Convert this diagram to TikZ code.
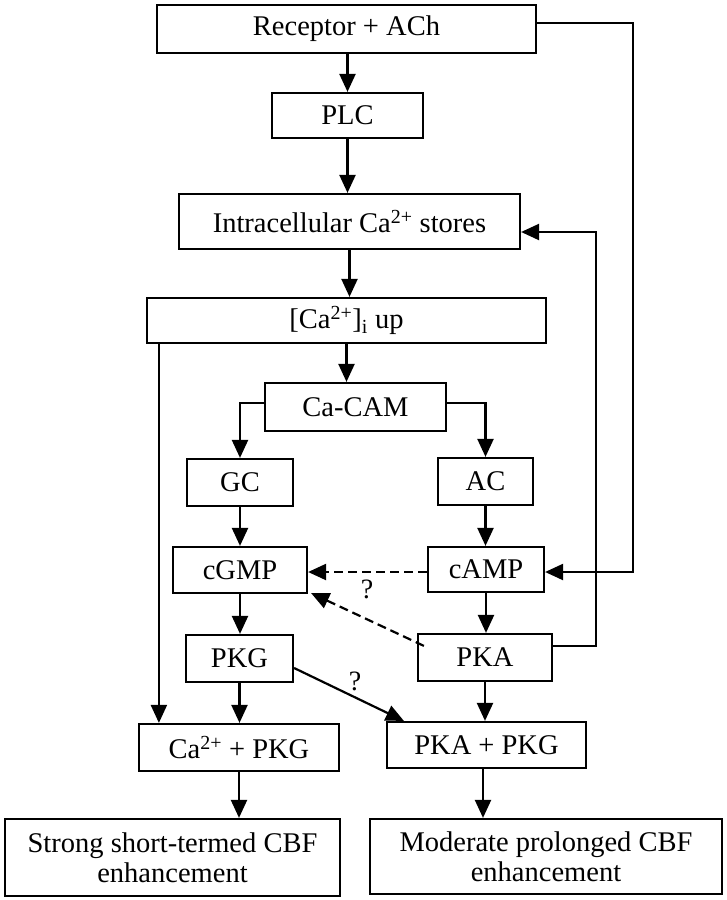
\documentclass[tikz,border=0pt]{standalone}
\usepackage{fontspec}
\setmainfont{Liberation Serif}
\usetikzlibrary{arrows.meta}
\begin{document}
\begin{tikzpicture}[x=1pt,y=-1pt,
  box/.style={draw,line width=2.2pt,inner sep=0pt,align=center,font=\fontsize{28.5}{30}\selectfont},
  arr/.style={line width=2.2pt,-{Triangle[length=18pt,width=16pt]}},
  darr/.style={arr,dash pattern=on 9pt off 5pt},
  qm/.style={font=\fontsize{28}{30}\selectfont,inner sep=0pt}]
\useasboundingbox (0,0) rectangle (727,900);
\node[box,minimum width=379pt,minimum height=48pt] (rec) at (346.5,29) {Receptor + ACh};
\node[box,minimum width=151pt,minimum height=45pt] (plc) at (347.5,115.5) {PLC};
\node[box,minimum width=341pt,minimum height=55pt] (ics) at (349.5,221.5) {Intracellular Ca\textsuperscript{2+} stores};
\node[box,minimum width=399pt,minimum height=45pt] (cai) at (346.5,320.5) {[Ca\textsuperscript{2+}]\textsubscript{i} up};
\node[box,minimum width=181pt,minimum height=48pt] (cacam) at (355.5,407) {Ca-CAM};
\node[box,minimum width=106pt,minimum height=47pt] (gc) at (240,482.5) {GC};
\node[box,minimum width=95pt,minimum height=47pt] (ac) at (485.5,481.5) {AC};
\node[box,minimum width=134pt,minimum height=46pt] (cgmp) at (240,570) {cGMP};
\node[box,minimum width=116pt,minimum height=45pt] (camp) at (486,569.5) {cAMP};
\node[box,minimum width=107pt,minimum height=47pt] (pkg) at (239.5,658.5) {PKG};
\node[box,minimum width=134pt,minimum height=47pt] (pka) at (485,657.5) {PKA};
\node[box,minimum width=200pt,minimum height=47pt] (capkg) at (239,747.5) {Ca\textsuperscript{2+} + PKG};
\node[box,minimum width=199pt,minimum height=46pt] (pkapkg) at (486.5,745) {PKA + PKG};
\node[box,minimum width=335pt,minimum height=77pt] (strong) at (172.5,857.5) {Strong short-termed CBF\\enhancement};
\node[box,minimum width=352pt,minimum height=75pt] (moderate) at (546,856.5) {Moderate prolonged CBF\\enhancement};
\node[qm] (q1) at (367,589) {?};
\node[qm] (q2) at (355,681) {?};
\coordinate (r1) at (633,23);
\coordinate (r2) at (596,232);
\coordinate (cail) at ([xshift=13pt]cai.south west);
\draw[arr] (plc.north |- rec.south) -- (plc.north);
\draw[arr] (plc.south) -- (plc.south |- ics.north);
\draw[arr] (ics.south) -- (ics.south |- cai.north);
\draw[arr] (cai.south) -- (cai.south |- cacam.north);
\draw[arr] ([yshift=4pt]cacam.west) -| (gc.north);
\draw[arr] ([yshift=4pt]cacam.east) -| (ac.north);
\draw[arr] (gc.south) -- (gc.south |- cgmp.north);
\draw[arr] (ac.south) -- (ac.south |- camp.north);
\draw[arr] (cgmp.south) -- (cgmp.south |- pkg.north);
\draw[arr] (camp.south) -- (camp.south |- pka.north);
\draw[arr] (pkg.south) -- (pkg.south |- capkg.north);
\draw[arr] (pka.south) -- (pka.south |- pkapkg.north);
\draw[arr] (capkg.south) -- (capkg.south |- strong.north);
\draw[arr] (pkapkg.south -| 483,0) -- (moderate.north -| 483,0);
\draw[arr] (cail) -- (cail |- capkg.north);
\draw[arr,line join=miter] (r1 -| rec.east) -- (r1) |- ([yshift=-2.5pt]camp.east);
\draw[arr,line join=miter] ([yshift=11.5pt]pka.east) -| (r2) -- (r2 -| ics.east);
\draw[arr] ([yshift=-9.5pt]pkg.east) -- ([xshift=18pt]pkapkg.north west);
\draw[darr] ([yshift=-2.5pt]camp.west) -- ([yshift=-2.5pt]camp.west -| cgmp.east);
\draw[darr] ([xshift=7pt,yshift=-13pt]pka.north west) -- ([xshift=3pt,yshift=1pt]cgmp.south east);
\end{tikzpicture}
\end{document}
